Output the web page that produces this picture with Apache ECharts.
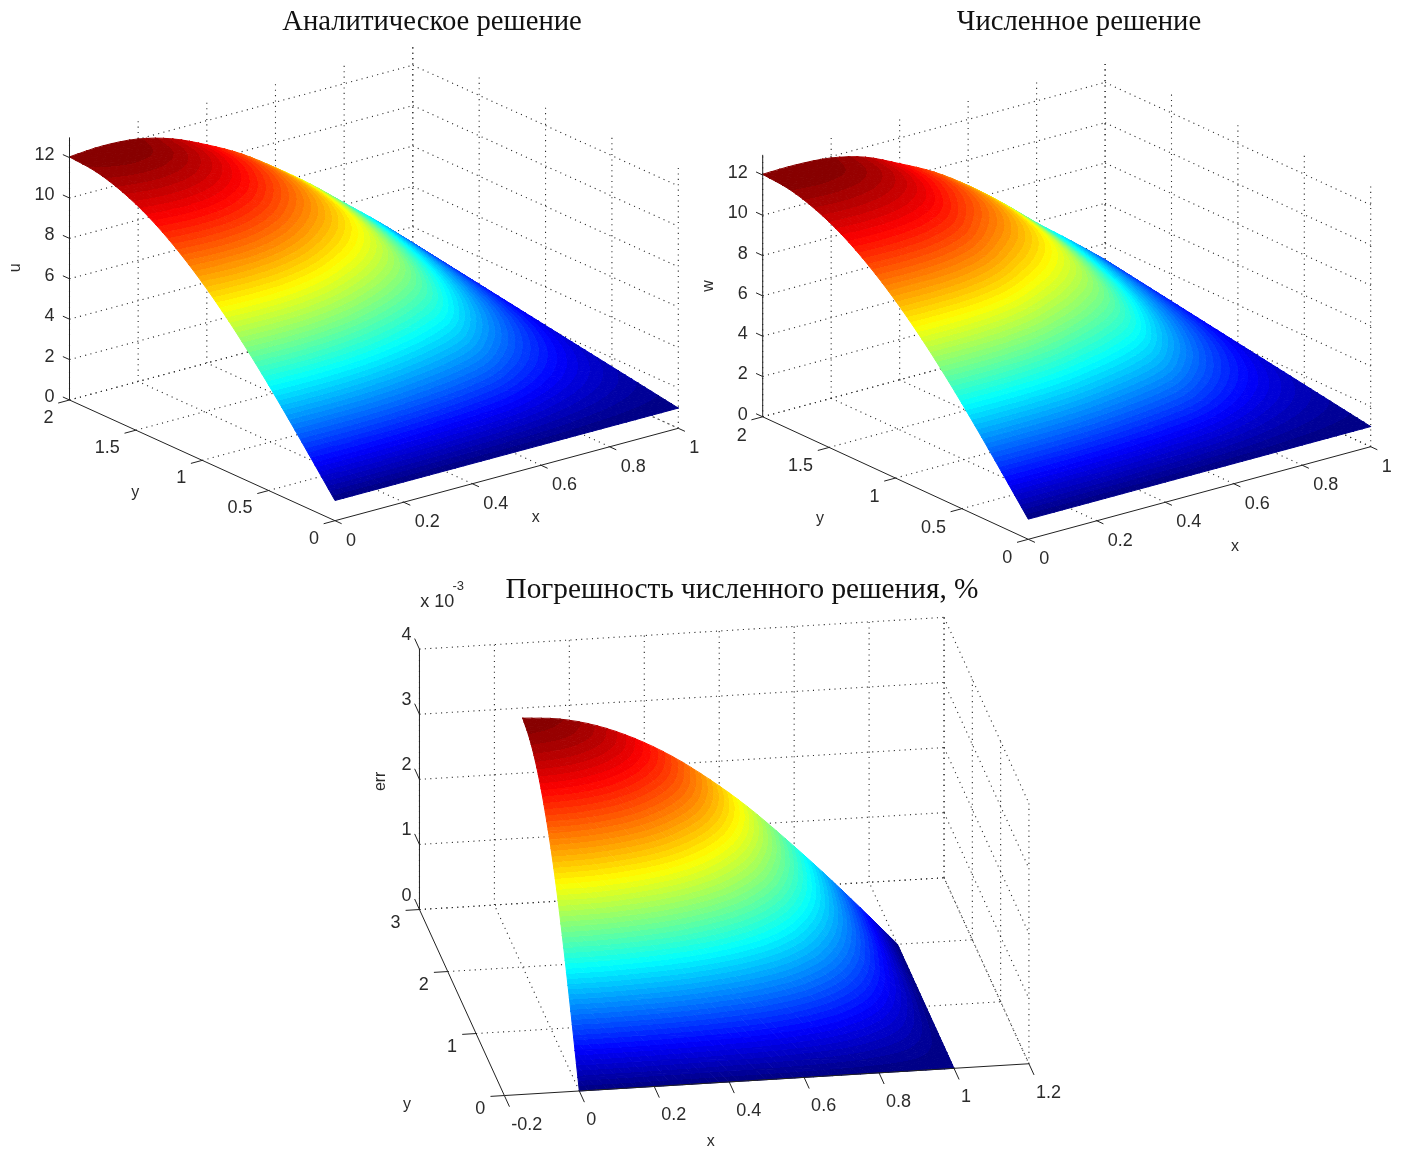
<!DOCTYPE html>
<html>
<head>
<meta charset="utf-8">
<style>html,body{margin:0;padding:0;background:#fff}#main{width:1403px;height:1153px}</style>
<script src="https://cdn.jsdelivr.net/npm/echarts@6/dist/echarts.min.js"></script>
</head>
<body>
<div id="main"></div>
<script>
const titles = ['Аналитическое решение', 'Численное решение', 'Погрешность численного решения, %'];

// Sampling positions of the surfaces
const xSamples = [0, 0.1, 0.2, 0.3, 0.4, 0.5, 0.6, 0.7, 0.8, 0.9, 1];
const ySamples = [0, 0.2, 0.4, 0.6, 0.8, 1, 1.2, 1.4, 1.6, 1.8, 2];

// Values: one row per x sample, one column per y sample
const uValues = [
  [1, 2.72, 4.41, 6.01, 7.49, 8.80, 9.92, 10.83, 11.49, 11.90, 12.03],
  [1, 2.74, 4.44, 6.05, 7.54, 8.87, 10.00, 10.92, 11.58, 12.00, 12.13],
  [1, 2.72, 4.40, 5.99, 7.47, 8.78, 9.90, 10.80, 11.46, 11.87, 12.00],
  [1, 2.65, 4.26, 5.79, 7.20, 8.46, 9.53, 10.40, 11.03, 11.42, 11.55],
  [1, 2.53, 4.03, 5.45, 6.76, 7.93, 8.93, 9.73, 10.32, 10.68, 10.80],
  [1, 2.39, 3.75, 5.04, 6.23, 7.29, 8.20, 8.93, 9.46, 9.79, 9.90],
  [1, 2.21, 3.39, 4.52, 5.56, 6.48, 7.27, 7.91, 8.37, 8.66, 8.75],
  [1, 1.92, 2.83, 3.70, 4.52, 5.26, 5.92, 6.48, 6.93, 7.28, 7.50],
  [1, 1.65, 2.30, 2.92, 3.52, 4.08, 4.60, 5.06, 5.47, 5.81, 6.10],
  [1, 1.42, 1.84, 2.25, 2.65, 3.04, 3.41, 3.77, 4.10, 4.41, 4.70],
  [1, 1.22, 1.44, 1.66, 1.88, 2.10, 2.32, 2.54, 2.76, 2.98, 3.20]
];
const wValues = [
  [1, 2.72, 4.41, 6.01, 7.49, 8.80, 9.92, 10.83, 11.49, 11.90, 12.03],
  [1, 2.72, 4.41, 6.02, 7.50, 8.81, 9.94, 10.85, 11.51, 11.92, 12.05],
  [1, 2.70, 4.37, 5.96, 7.42, 8.72, 9.83, 10.73, 11.38, 11.79, 11.92],
  [1, 2.64, 4.24, 5.77, 7.17, 8.42, 9.49, 10.36, 10.99, 11.37, 11.50],
  [1, 2.52, 4.00, 5.41, 6.72, 7.87, 8.86, 9.66, 10.24, 10.60, 10.72],
  [1, 2.38, 3.73, 5.02, 6.20, 7.26, 8.16, 8.89, 9.42, 9.74, 9.85],
  [1, 2.20, 3.39, 4.50, 5.54, 6.46, 7.25, 7.88, 8.34, 8.63, 8.72],
  [1, 1.91, 2.80, 3.66, 4.46, 5.19, 5.84, 6.40, 6.84, 7.18, 7.40],
  [1, 1.63, 2.26, 2.87, 3.45, 3.99, 4.49, 4.94, 5.34, 5.67, 5.95],
  [1, 1.41, 1.82, 2.22, 2.61, 2.99, 3.35, 3.69, 4.02, 4.32, 4.60],
  [1, 1.22, 1.44, 1.66, 1.88, 2.10, 2.32, 2.54, 2.76, 2.98, 3.20]
];
// err, in units of 10^-3
const errValues = [
  [0, 0.63, 1.24, 1.81, 2.33, 2.77, 3.13, 3.42, 3.63, 3.76, 3.82],
  [0, 0.62, 1.23, 1.79, 2.30, 2.73, 3.09, 3.37, 3.58, 3.71, 3.77],
  [0, 0.60, 1.18, 1.72, 2.21, 2.63, 2.98, 3.25, 3.45, 3.58, 3.63],
  [0, 0.56, 1.11, 1.62, 2.07, 2.47, 2.79, 3.04, 3.23, 3.35, 3.40],
  [0, 0.51, 1.00, 1.47, 1.88, 2.24, 2.53, 2.77, 2.94, 3.04, 3.09],
  [0, 0.45, 0.88, 1.28, 1.65, 1.96, 2.21, 2.42, 2.57, 2.66, 2.70],
  [0, 0.37, 0.73, 1.07, 1.37, 1.63, 1.85, 2.01, 2.14, 2.22, 2.25],
  [0, 0.29, 0.56, 0.82, 1.06, 1.25, 1.42, 1.55, 1.64, 1.70, 1.73],
  [0, 0.19, 0.38, 0.56, 0.72, 0.86, 0.97, 1.06, 1.12, 1.16, 1.18],
  [0, 0.10, 0.20, 0.29, 0.37, 0.44, 0.49, 0.54, 0.57, 0.59, 0.60],
  [0, 0, 0, 0, 0, 0, 0, 0, 0, 0, 0]
];

// Tick labels
const xTicksTop = ['0', '0.2', '0.4', '0.6', '0.8', '1'];
const yTicksTop = ['0', '0.5', '1', '1.5', '2'];
const zTicksTop = ['0', '2', '4', '6', '8', '10', '12'];
const xTicksErr = ['-0.2', '0', '0.2', '0.4', '0.6', '0.8', '1', '1.2'];
const yTicksErr = ['0', '1', '2', '3'];
const zTicksErr = ['0', '1', '2', '3', '4'];

const FONT = '"Liberation Sans", Arial, sans-serif';
const SERIF = '"Liberation Serif", "Times New Roman", serif';
const INK = '#2b2b2b';
const SUBDIVISION = 4; // smooth shading steps drawn inside every data cell

// Orthographic views: plane position of the data origin and of one data unit on each axis
const views = [
  { grid: { left: 0, top: 0, width: 701, height: 570 },
    origin: [335, 520.7], ex: [343.3, -92.4], ey: [-132.75, -60.35], ez: [0, -20.2],
    values: uValues, xT: xTicksTop, yT: yTicksTop, zT: zTicksTop, zMax: 13,
    xTickDir: [0, -0.05, 0], yTickDir: [-0.033, 0, 0], zTickDir: [0, 0.05, 0],
    xLab: { dx: 11, dy: 20 }, yLab: { dx: -16, dy: 18 }, zLab: { dx: -15, dy: -3 },
    names: { x: { v: 'x', at: [0.5, 0, 0], d: [29, 43] }, y: { v: 'y', at: [0, 1, 0], d: [-67, 32] }, z: { v: 'u', at: [0, 2, 6], d: [-53.5, -11] } } },
  { grid: { left: 701, top: 0, width: 702, height: 570 },
    origin: [1028.3, 539.3], ex: [342.4, -92.6], ey: [-132.8, -61.25], ez: [0, -20.15],
    values: wValues, xT: xTicksTop, yT: yTicksTop, zT: zTicksTop, zMax: 13,
    xTickDir: [0, -0.05, 0], yTickDir: [-0.033, 0, 0], zTickDir: [0, 0.05, 0],
    xLab: { dx: 11, dy: 20 }, yLab: { dx: -16, dy: 19 }, zLab: { dx: -15, dy: -2 },
    names: { x: { v: 'x', at: [0.5, 0, 0], d: [35.5, 54] }, y: { v: 'y', at: [0, 1, 0], d: [-75.5, 41] }, z: { v: 'w', at: [0, 2, 6], d: [-53.7, -10] } } },
  { grid: { left: 350, top: 570, width: 750, height: 583 },
    origin: [579.3, 1091], ex: [374.7, -22.7], ey: [-28.3, -62], ez: [0, -65.1],
    values: errValues, xT: xTicksErr, yT: yTicksErr, zT: zTicksErr, zMax: 4,
    xTickDir: [0, -0.18, 0], yTickDir: [-0.037, 0, 0], zTickDir: [0, 0.17, 0],
    xLab: { dx: 7, dy: 29 }, yLab: { dx: -19, dy: 13 }, zLab: { dx: -8, dy: -14 },
    names: { x: { v: 'x', at: [0.5, 0, 0], d: [-56, 62] }, y: { v: 'y', at: [-0.2, 1.5, 0], d: [-55, 102] }, z: { v: 'err', at: [-0.2, 3, 2], d: [-39, 2] } },
    multiplier: { base: 'x 10', exp: '-3', at: [-0.2, 3, 4], baseD: [0.7, -47], expD: [33, -63] } }
];

function project(v, x, y, z) {
  return [
    v.origin[0] + v.ex[0] * x + v.ey[0] * y + v.ez[0] * z - v.grid.left,
    v.origin[1] + v.ex[1] * x + v.ey[1] * y + v.ez[1] * z - v.grid.top
  ];
}

function clamp01(a) { return Math.max(0, Math.min(1, a)); }
function jet(band) {
  const t = (band + 0.5) / 64;
  const r = clamp01(Math.min(4 * t - 1.5, -4 * t + 4.5));
  const g = clamp01(Math.min(4 * t - 0.5, -4 * t + 3.5));
  const b = clamp01(Math.min(4 * t + 0.5, -4 * t + 2.5));
  return 'rgb(' + Math.round(r * 255) + ',' + Math.round(g * 255) + ',' + Math.round(b * 255) + ')';
}

// Smooth curve through four neighbouring table values (same idea as a smoothed line)
function smoothStep(a, b, c, d, f) {
  return b + 0.5 * f * (c - a + f * (2 * a - 5 * b + 4 * c - d + f * (3 * (b - c) + d - a)));
}
function tableAt(table, i, j) {
  const ni = table.length - 1, nj = table[0].length - 1;
  if (i < 0) return 2 * tableAt(table, 0, j) - tableAt(table, 1, j);
  if (i > ni) return 2 * tableAt(table, ni, j) - tableAt(table, ni - 1, j);
  if (j < 0) return 2 * table[i][0] - table[i][1];
  if (j > nj) return 2 * table[i][nj] - table[i][nj - 1];
  return table[i][j];
}
function smoothAt(table, i, j, fi, fj) {
  const col = [];
  for (let a = -1; a <= 2; a++) {
    col.push(smoothStep(tableAt(table, i + a, j - 1), tableAt(table, i + a, j), tableAt(table, i + a, j + 1), tableAt(table, i + a, j + 2), fj));
  }
  return smoothStep(col[0], col[1], col[2], col[3], fi);
}

// One triangle of the surface, z is linear across it so the 64 colour bands become a hard-stop gradient
function triangleStyle(p, z, cMin, cMax) {
  const bandOf = function (val) {
    return Math.max(0, Math.min(63, Math.floor((val - cMin) / (cMax - cMin) * 64)));
  };
  const zLo = Math.min(z[0], z[1], z[2]);
  const zHi = Math.max(z[0], z[1], z[2]);
  const D = (p[1][0] - p[0][0]) * (p[2][1] - p[0][1]) - (p[2][0] - p[0][0]) * (p[1][1] - p[0][1]);
  if (Math.abs(D) < 1e-6 || zHi - zLo < 1e-9 || bandOf(zLo) === bandOf(zHi)) {
    const c = jet(bandOf((zLo + zHi) / 2));
    return { fill: c, stroke: c, lineWidth: 1, lineJoin: 'round', lineCap: 'round' };
  }
  const gx = ((z[1] - z[0]) * (p[2][1] - p[0][1]) - (z[2] - z[0]) * (p[1][1] - p[0][1])) / D;
  const gy = ((z[2] - z[0]) * (p[1][0] - p[0][0]) - (z[1] - z[0]) * (p[2][0] - p[0][0])) / D;
  const g2 = gx * gx + gy * gy;
  const s = p[z.indexOf(zLo)];
  const e = [s[0] + gx / g2 * (zHi - zLo), s[1] + gy / g2 * (zHi - zLo)];
  const stops = [];
  for (let b = bandOf(zLo); b <= bandOf(zHi); b++) {
    const lo = cMin + (cMax - cMin) * b / 64;
    const hi = cMin + (cMax - cMin) * (b + 1) / 64;
    const c = jet(b);
    stops.push({ offset: clamp01((lo - zLo) / (zHi - zLo)), color: c });
    stops.push({ offset: clamp01((hi - zLo) / (zHi - zLo)), color: c });
  }
  const grad = new echarts.graphic.LinearGradient(s[0], s[1], e[0], e[1], stops, true);
  return { fill: grad, stroke: grad, lineWidth: 1, lineJoin: 'round', lineCap: 'round' };
}

const series = [], grids = [], xAxes = [], yAxes = [];

views.forEach(function (v, k) {
  grids.push(Object.assign({ containLabel: false }, v.grid));
  xAxes.push({ type: 'value', gridIndex: k, show: false, min: 0, max: v.grid.width });
  yAxes.push({ type: 'value', gridIndex: k, show: false, min: 0, max: v.grid.height, inverse: true });

  const xN = v.xT.map(Number), yN = v.yT.map(Number), zN = v.zT.map(Number);
  const x0 = xN[0], x1 = xN[xN.length - 1], y0 = yN[0], y1 = yN[yN.length - 1], zTop = v.zMax;

  // dotted grid on floor and back walls
  const dotted = [];
  xN.forEach(function (x) {
    if (x !== x0) dotted.push([x, y0, 0, x, y1, 0], [x, y1, 0, x, y1, zTop]);
  });
  yN.forEach(function (y) {
    if (y !== y0) dotted.push([x0, y, 0, x1, y, 0]);
    dotted.push([x1, y, 0, x1, y, zTop]);
  });
  zN.forEach(function (z) {
    dotted.push([x0, y1, z, x1, y1, z], [x1, y1, z, x1, y0, z]);
  });
  dotted.push([x0, y1, 0, x0, y1, zTop]);

  // solid axes and tick marks
  const solid = [[x0, y0, 0, x1, y0, 0], [x0, y0, 0, x0, y1, 0], [x0, y1, 0, x0, y1, zTop]];
  xN.forEach(function (x) {
    solid.push([x, y0, 0, x + v.xTickDir[0], y0 + v.xTickDir[1], v.xTickDir[2]]);
  });
  yN.forEach(function (y) {
    solid.push([x0, y, 0, x0 + v.yTickDir[0], y + v.yTickDir[1], v.yTickDir[2]]);
  });
  zN.forEach(function (z) {
    solid.push([x0, y1, z, x0 + v.zTickDir[0], y1 + v.zTickDir[1], z + v.zTickDir[2]]);
  });

  const lineItem = function (dash, width, color) {
    return function (params, api) {
      const a = project(v, api.value(0), api.value(1), api.value(2));
      const b = project(v, api.value(3), api.value(4), api.value(5));
      const pa = api.coord(a), pb = api.coord(b);
      return {
        type: 'line',
        shape: { x1: pa[0], y1: pa[1], x2: pb[0], y2: pb[1] },
        style: { stroke: color, lineWidth: width, lineDash: dash, fill: null },
        silent: true
      };
    };
  };

  const common = { type: 'custom', coordinateSystem: 'cartesian2d', xAxisIndex: k, yAxisIndex: k, clip: false, animation: false, silent: true, tooltip: { show: false } };

  series.push(Object.assign({}, common, { name: 'grid' + k, data: dotted, renderItem: lineItem([1.1, 4.3], 1.1, '#2a2a2a') }));

  // surface cells, back to front
  const flat = [].concat.apply([], v.values);
  const cMin = Math.min.apply(null, flat), cMax = Math.max.apply(null, flat);
  const cells = [];
  for (let i = xSamples.length - 2; i >= 0; i--) {
    for (let j = ySamples.length - 2; j >= 0; j--) cells.push([i, j]);
  }
  series.push(Object.assign({}, common, {
    name: 'surface' + k,
    data: cells,
    renderItem: function (params, api) {
      const i = api.value(0), j = api.value(1);
      const n = SUBDIVISION;
      const corner = function (a, b) {
        const fi = a / n, fj = b / n;
        const z = smoothAt(v.values, i, j, fi, fj);
        const x = xSamples[i] + (xSamples[i + 1] - xSamples[i]) * fi;
        const y = ySamples[j] + (ySamples[j + 1] - ySamples[j]) * fj;
        return { p: api.coord(project(v, x, y, z)), z: z };
      };
      const tri = function (a, b, c) {
        return {
          type: 'polygon',
          shape: { points: [a.p, b.p, c.p] },
          style: triangleStyle([a.p, b.p, c.p], [a.z, b.z, c.z], cMin, cMax),
          silent: true
        };
      };
      const children = [];
      for (let a = n - 1; a >= 0; a--) {
        for (let b = n - 1; b >= 0; b--) {
          const c00 = corner(a, b), c10 = corner(a + 1, b), c01 = corner(a, b + 1), c11 = corner(a + 1, b + 1);
          children.push(tri(c11, c10, c01), tri(c10, c00, c01));
        }
      }
      return { type: 'group', children: children };
    }
  }));

  series.push(Object.assign({}, common, { name: 'axes' + k, data: solid, renderItem: lineItem(null, 1, '#222222') }));

  // text
  const texts = [];
  const add = function (text, at, d, align, size, rot) {
    texts.push({ text: text, at: at, d: d, align: align, size: size, rot: rot || 0 });
  };
  v.xT.forEach(function (t, n) { add(t, [xN[n], y0, 0], [v.xLab.dx, v.xLab.dy], 'left', 18); });
  v.yT.forEach(function (t, n) { add(t, [x0, yN[n], 0], [v.yLab.dx, v.yLab.dy], 'right', 18); });
  v.zT.forEach(function (t, n) { add(t, [x0, y1, zN[n]], [v.zLab.dx, v.zLab.dy], 'right', 18); });
  add(v.names.x.v, v.names.x.at, v.names.x.d, 'center', 16);
  add(v.names.y.v, v.names.y.at, v.names.y.d, 'center', 16);
  add(v.names.z.v, v.names.z.at, v.names.z.d, 'center', 16, Math.PI / 2);
  if (v.multiplier) {
    add(v.multiplier.base, v.multiplier.at, v.multiplier.baseD, 'left', 18);
    add(v.multiplier.exp, v.multiplier.at, v.multiplier.expD, 'left', 13);
  }
  series.push(Object.assign({}, common, {
    name: 'labels' + k,
    data: texts.map(function (t) { return t.at; }),
    renderItem: function (params, api) {
      const t = texts[params.dataIndex];
      const p = api.coord(project(v, t.at[0], t.at[1], t.at[2]));
      return {
        type: 'text',
        x: p[0] + t.d[0], y: p[1] + t.d[1], rotation: t.rot, silent: true,
        style: { text: t.text, fill: INK, font: t.size + 'px ' + FONT, align: t.align, verticalAlign: 'middle' }
      };
    }
  }));
});

const chart = echarts.init(document.getElementById('main'), null, { renderer: 'canvas' });
chart.setOption({
  backgroundColor: '#ffffff',
  animation: false,
  title: [
    { text: titles[0], left: 427, top: 3, textAlign: 'center', textStyle: { fontFamily: SERIF, fontSize: 28.7, fontWeight: 'normal', color: '#111111' } },
    { text: titles[1], left: 1074, top: 3, textAlign: 'center', textStyle: { fontFamily: SERIF, fontSize: 28.7, fontWeight: 'normal', color: '#111111' } },
    { text: titles[2], left: 737, top: 571, textAlign: 'center', textStyle: { fontFamily: SERIF, fontSize: 29.3, fontWeight: 'normal', color: '#111111' } }
  ],
  grid: grids,
  xAxis: xAxes,
  yAxis: yAxes,
  series: series
});
</script>
</body>
</html>
